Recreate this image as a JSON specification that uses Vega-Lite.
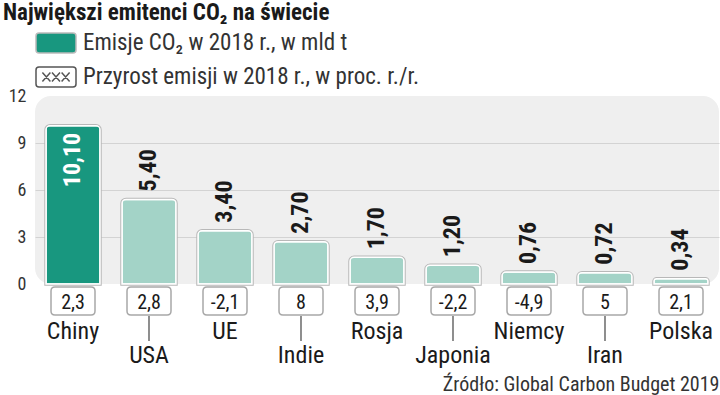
{
  "$schema": "https://vega.github.io/schema/vega-lite/v6.json",
  "autosize": "none",
  "width": 684,
  "height": 188,
  "padding": {"left": 35, "top": 96, "right": 1, "bottom": 111},
  "title": {
    "text": "Największi emitenci CO₂ na świecie",
    "anchor": "start",
    "frame": "group",
    "dx": -32,
    "dy": 7,
    "offset": 4,
    "fontSize": 23,
    "fontWeight": "bold",
    "font": "'Roboto Condensed', 'DejaVu Sans Condensed', sans-serif",
    "color": "#1a1a1a"
  },
  "config": {
    "locale": {"number": {"decimal": ",", "thousands": " ", "grouping": [3], "currency": ["", " zł"], "minus": "-"}},
    "view": {"fill": "#efefef", "stroke": null, "cornerRadius": 16}
  },
  "data": {
    "values": [
      {"kraj": "Chiny", "emisja": 10.10, "zmiana": 2.3},
      {"kraj": "USA", "emisja": 5.40, "zmiana": 2.8},
      {"kraj": "UE", "emisja": 3.40, "zmiana": -2.1},
      {"kraj": "Indie", "emisja": 2.70, "zmiana": 8},
      {"kraj": "Rosja", "emisja": 1.70, "zmiana": 3.9},
      {"kraj": "Japonia", "emisja": 1.20, "zmiana": -2.2},
      {"kraj": "Niemcy", "emisja": 0.76, "zmiana": -4.9},
      {"kraj": "Iran", "emisja": 0.72, "zmiana": 5},
      {"kraj": "Polska", "emisja": 0.34, "zmiana": 2.1}
    ]
  },
  "encoding": {
    "x": {
      "field": "kraj",
      "type": "nominal",
      "sort": null,
      "scale": {"paddingInner": 0.29, "paddingOuter": 0.145},
      "axis": {
        "labels": false, "ticks": false, "domain": false,
        "title": "Źródło: Global Carbon Budget 2019",
        "titleAnchor": "end", "titlePadding": 90, "titleFontSize": 20,
        "titleFontWeight": "normal", "titleColor": "#333333",
        "titleFont": "'Roboto Condensed', 'DejaVu Sans Condensed', sans-serif"
      }
    }
  },
  "layer": [
    {
      "data": {"values": [
        {"seria": "Emisje CO₂ w 2018 r., w mld t"},
        {"seria": "Przyrost emisji w 2018 r., w proc. r./r."}
      ]},
      "mark": {"type": "point", "filled": true, "opacity": 0},
      "encoding": {
        "x": {"value": 0},
        "fill": {
          "field": "seria", "type": "nominal",
          "scale": {"domain": ["Emisje CO₂ w 2018 r., w mld t", "Przyrost emisji w 2018 r., w proc. r./r."], "range": ["#18977f", "#ffffff"]},
          "legend": {
            "title": null, "orient": "none", "legendX": 0, "legendY": -74, "direction": "vertical",
            "symbolType": "M-0.85,-0.5H0.85Q1,-0.5 1,-0.35V0.35Q1,0.5 0.85,0.5H-0.85Q-1,0.5 -1,0.35V-0.35Q-1,-0.5 -0.85,-0.5Z",
            "symbolSize": 1600, "symbolOpacity": 1, "symbolStrokeColor": "#aaaaaa", "symbolStrokeWidth": 1.5,
            "labelFontSize": 23, "labelColor": "#333333", "labelOffset": 6, "rowPadding": -8, "labelLimit": 600,
            "labelFont": "'Roboto Condensed', 'DejaVu Sans Condensed', sans-serif",
            "encode": {"symbols": {"update": {
              "shape": {"signal": "datum.index === 0 ? 'M-0.85,-0.5H0.85Q1,-0.5 1,-0.35V0.35Q1,0.5 0.85,0.5H-0.85Q-1,0.5 -1,0.35V-0.35Q-1,-0.5 -0.85,-0.5Z' : 'M-0.85,-0.5H0.85Q1,-0.5 1,-0.35V0.35Q1,0.5 0.85,0.5H-0.85Q-1,0.5 -1,0.35V-0.35Q-1,-0.5 -0.85,-0.5Z M-0.68,-0.22L-0.28,0.22M-0.28,-0.22L-0.68,0.22M-0.2,-0.22L0.2,0.22M0.2,-0.22L-0.2,0.22M0.28,-0.22L0.68,0.22M0.68,-0.22L0.28,0.22'"},
              "stroke": {"signal": "datum.index === 0 ? '#bbbbbb' : '#555555'"}
            }}}
          }
        }
      }
    },
    {
      "mark": {"type": "bar", "cornerRadiusTopLeft": 4, "cornerRadiusTopRight": 4, "stroke": "#b8b8b8", "strokeWidth": 3.5},
      "encoding": {
        "y": {
          "field": "emisja", "type": "quantitative",
          "scale": {"domain": [0, 12], "nice": false},
          "axis": {
            "values": [0, 3, 6, 9, 12], "title": null, "domain": false, "ticks": false,
            "labelFontSize": 18, "labelColor": "#333333", "labelPadding": 9,
            "labelFont": "'Roboto Condensed', 'DejaVu Sans Condensed', sans-serif",
            "gridColor": "#d3d3d3",
            "gridOpacity": {"condition": {"test": "datum.value === 0 || datum.value === 12", "value": 0}, "value": 1}
          }
        },
        "color": {"condition": {"test": "datum.kraj === 'Chiny'", "value": "#18977f"}, "value": "#a3d3c7"}
      }
    },
    {
      "mark": {"type": "bar", "cornerRadiusTopLeft": 4, "cornerRadiusTopRight": 4, "stroke": "#ffffff", "strokeWidth": 1.5},
      "encoding": {
        "y": {"field": "emisja", "type": "quantitative"},
        "color": {"condition": {"test": "datum.kraj === 'Chiny'", "value": "#18977f"}, "value": "#a3d3c7"}
      }
    },
    {
      "transform": [{"filter": "datum.kraj !== 'Chiny'"}],
      "mark": {"type": "text", "angle": 270, "align": "left", "baseline": "middle", "dx": 8, "fontSize": 24, "fontWeight": "bold", "color": "#1a1a1a", "font": "'Roboto Condensed', 'DejaVu Sans Condensed', sans-serif"},
      "encoding": {
        "y": {"field": "emisja", "type": "quantitative"},
        "text": {"field": "emisja", "type": "quantitative", "format": ".2f"}
      }
    },
    {
      "transform": [{"filter": "datum.kraj === 'Chiny'"}],
      "mark": {"type": "text", "angle": 270, "align": "right", "baseline": "middle", "dx": -7, "fontSize": 24, "fontWeight": "bold", "color": "#ffffff", "font": "'Roboto Condensed', 'DejaVu Sans Condensed', sans-serif"},
      "encoding": {
        "y": {"field": "emisja", "type": "quantitative"},
        "text": {"field": "emisja", "type": "quantitative", "format": ".2f"}
      }
    },
    {
      "mark": {"type": "point", "shape": "M-0.82,-0.636H0.82Q1,-0.636 1,-0.456V0.456Q1,0.636 0.82,0.636H-0.82Q-1,0.636 -1,0.456V-0.456Q-1,-0.636 -0.82,-0.636Z", "size": 1936, "filled": true, "fill": "#ffffff", "stroke": "#a8a8a8", "strokeWidth": 1.5, "opacity": 1, "yOffset": 17},
      "encoding": {"y": {"datum": 0}}
    },
    {
      "mark": {"type": "text", "baseline": "alphabetic", "yOffset": 25, "fontSize": 20, "color": "#1a1a1a", "font": "'Roboto Condensed', 'DejaVu Sans Condensed', sans-serif"},
      "encoding": {
        "y": {"datum": 0},
        "text": {"field": "zmiana", "type": "quantitative", "format": "~g"}
      }
    },
    {
      "transform": [{"filter": {"field": "kraj", "oneOf": ["USA", "Indie", "Japonia", "Iran"]}}],
      "mark": {"type": "rule", "color": "#444444", "strokeWidth": 1.2, "yOffset": 32, "y2Offset": 57},
      "encoding": {"y": {"datum": 0}, "y2": {"datum": 0}}
    },
    {
      "transform": [{"filter": {"field": "kraj", "oneOf": ["Chiny", "UE", "Rosja", "Niemcy", "Polska"]}}],
      "mark": {"type": "text", "baseline": "alphabetic", "yOffset": 55, "fontSize": 24, "color": "#1a1a1a", "font": "'Roboto Condensed', 'DejaVu Sans Condensed', sans-serif"},
      "encoding": {"y": {"datum": 0}, "text": {"field": "kraj"}}
    },
    {
      "transform": [{"filter": {"field": "kraj", "oneOf": ["USA", "Indie", "Japonia", "Iran"]}}],
      "mark": {"type": "text", "baseline": "alphabetic", "yOffset": 79, "fontSize": 24, "color": "#1a1a1a", "font": "'Roboto Condensed', 'DejaVu Sans Condensed', sans-serif"},
      "encoding": {"y": {"datum": 0}, "text": {"field": "kraj"}}
    }
  ]
}
